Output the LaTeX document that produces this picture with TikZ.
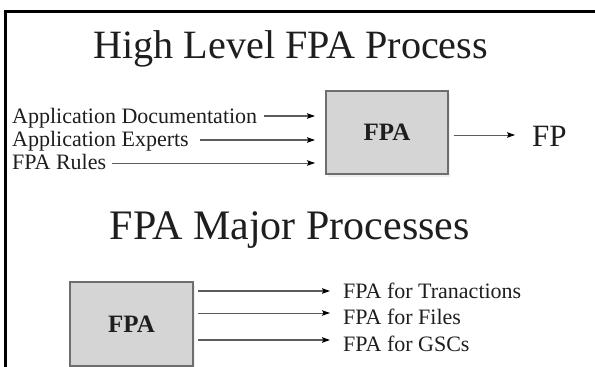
\documentclass[tikz,border=0pt]{standalone}
\usepackage{fontspec}
\setmainfont{Liberation Serif}
\usetikzlibrary{arrows.meta,shadows}

\definecolor{ink}{HTML}{1E1E1E}
\definecolor{wire}{HTML}{5C5C5C}
\definecolor{boxfill}{HTML}{D5D5D5}
\definecolor{boxedge}{HTML}{6E6E6E}

\tikzset{
  heading/.style={inner sep=0pt, text=ink, font=\fontsize{40.2}{42}\selectfont},
  lbl/.style={inner sep=0pt, text=ink, font=\fontsize{22}{24}\selectfont},
  fpabox/.style={draw=boxedge, fill=boxfill, line width=1.5pt,
    minimum width=122pt, minimum height=83pt, inner sep=0pt,
    text=ink, font=\fontsize{25}{27}\selectfont\bfseries,
    drop shadow={shadow xshift=2pt, shadow yshift=-3pt, opacity=0.12}},
  flow/.style={draw=wire, -{Stealth[length=8pt,width=5.5pt,inset=1.5pt,fill=black,color=black]}},
}

\begin{document}
\begin{tikzpicture}[x=1pt,y=1pt]
  \useasboundingbox (0,0) rectangle (595,367);
  \fill[white] (0,0) rectangle (595,367);

  % frame edges (top and left)
  \draw[line width=3.5pt, black] (5.5,0) -- (5.5,355.5) -- (595,355.5);

  % ---- upper part: overall process ----
  \node[heading, anchor=base west] (title1) at (93,308) {High Level FPA Process};

  \node[lbl, anchor=base west] (doc) at (12,243) {Application Documentation};
  \node[lbl, anchor=base west] (exp) at (12,220) {Application Experts};
  \node[lbl, anchor=base west] (rul) at (12,197) {FPA Rules};

  \node[fpabox] (top) at (387,234.5) {FPA};

  \coordinate (i1) at (315,251);
  \coordinate (i2) at (315,227);
  \coordinate (i3) at (315,204);
  \draw[flow, line width=2pt]   (doc.base east |- i1) ++(7,0) -- (i1);
  \draw[flow, line width=1.4pt] (exp.base east |- i2) ++(11,0) -- (i2);
  \draw[flow, line width=0.9pt] (rul.base east |- i3) ++(6,0) -- (i3);

  \node[inner sep=0pt, text=ink, font=\fontsize{31}{33}\selectfont, anchor=base west] (fp) at (532,220) {FP};
  \coordinate (o1) at (515,232);
  \draw[flow, line width=0.9pt, shorten <=5pt] (top.east |- o1) -- (o1);

  % ---- lower part: major processes ----
  \node[heading, font=\fontsize{42}{44}\selectfont, anchor=base east] (title2) at (470,127) {FPA Major Processes};

  \node[fpabox, minimum width=123pt, minimum height=84pt] (bot) at (131.5,43) {FPA};

  \node[lbl, anchor=base west] (tr) at (343,68) {FPA for Tranactions};
  \node[lbl, anchor=base west] (fi) at (343,42) {FPA for Files};
  \node[lbl, anchor=base west] (gs) at (343,15) {FPA for GSCs};

  \coordinate (e1) at (330,76);
  \coordinate (e2) at (330,54);
  \coordinate (e3) at (330,27);
  \draw[flow, line width=2.4pt, shorten <=4pt] (bot.east |- e1) -- (e1);
  \draw[flow, line width=0.9pt, shorten <=4pt] (bot.east |- e2) -- (e2);
  \draw[flow, line width=2pt,   shorten <=4pt] (bot.east |- e3) -- (e3);
\end{tikzpicture}
\end{document}
